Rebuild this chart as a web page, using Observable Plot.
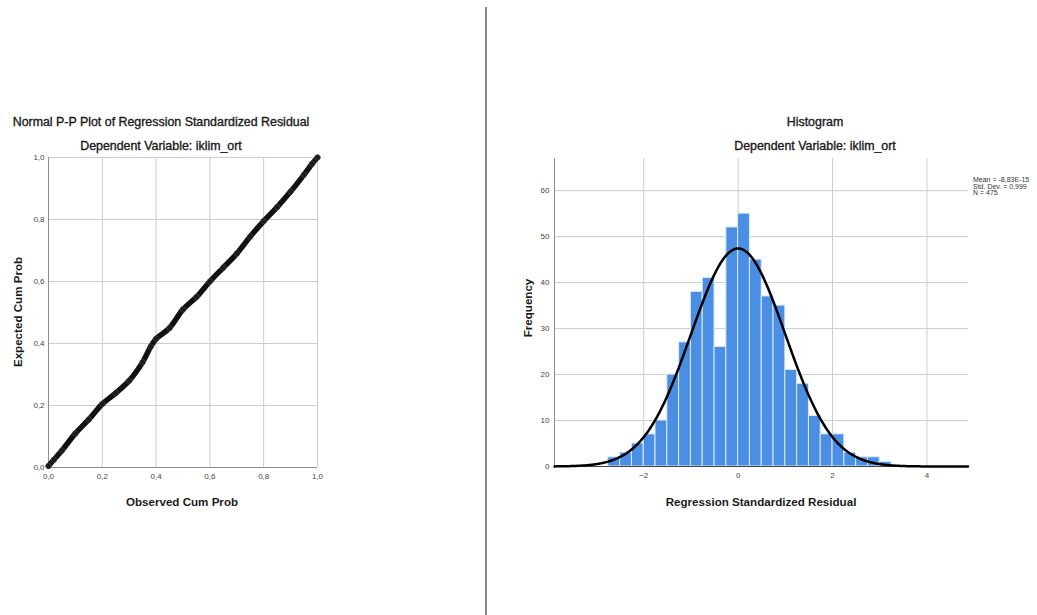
<!DOCTYPE html>
<html>
<head>
<meta charset="utf-8">
<script src="https://cdn.jsdelivr.net/npm/d3@7"></script>
<script src="https://cdn.jsdelivr.net/npm/@observablehq/plot@0.6"></script>
<style>
  html, body { margin: 0; padding: 0; background: #fff; }
  body { width: 1037px; height: 615px; position: relative; overflow: hidden; font-family: "Liberation Sans", Arial, sans-serif; }
  .abs { position: absolute; white-space: nowrap; color: #1a1a1a; }
  .title { font-size: 12.4px; -webkit-text-stroke: 0.35px #1a1a1a; transform: translate(-50%, -50%); }
  .axlab { font-size: 11.6px; font-weight: bold; transform: translate(-50%, -50%); }
  .axlabv { font-size: 11.6px; font-weight: bold; transform: translate(-50%, -50%) rotate(-90deg); }
  .legend { font-size: 7px; line-height: 6.5px; color: #333; }
  #divider { position: absolute; left: 485px; top: 7px; width: 2px; height: 608px; background: #8a8a8a; }
  #pp, #hist { position: absolute; top: 100px; }
  #pp { left: 0px; }
  #hist { left: 500px; }
</style>
</head>
<body>
<div id="divider"></div>

<div class="abs title" style="left:161px; top:122px;">Normal P-P Plot of Regression Standardized Residual</div>
<div class="abs title" style="left:161px; top:146px;">Dependent Variable: iklim_ort</div>
<div class="abs axlab" style="left:182px; top:501px;">Observed Cum Prob</div>
<div class="abs axlabv" style="left:17px; top:312px;">Expected Cum Prob</div>

<div class="abs title" style="left:815px; top:122px;">Histogram</div>
<div class="abs title" style="left:815px; top:146px;">Dependent Variable: iklim_ort</div>
<div class="abs axlab" style="left:761px; top:501px;">Regression Standardized Residual</div>
<div class="abs axlabv" style="left:527px; top:308px;">Frequency</div>

<div class="abs legend" style="left:973px; top:177px;">Mean = -8,83E-15<br>Std. Dev. = 0,999<br>N = 475</div>

<div id="pp"></div>
<div id="hist"></div>

<script>
// ---------- Data: Normal P-P plot ----------
const ppObserved = [0.00, 0.02, 0.05, 0.10, 0.15, 0.20, 0.25, 0.30, 0.35, 0.38, 0.40, 0.45, 0.50, 0.55, 0.60, 0.65, 0.70, 0.75, 0.80, 0.85, 0.90, 0.95, 0.98, 1.00];
const ppExpected = [0.005, 0.025, 0.055, 0.11, 0.155, 0.205, 0.24, 0.28, 0.34, 0.39, 0.415, 0.45, 0.51, 0.55, 0.60, 0.645, 0.69, 0.745, 0.795, 0.84, 0.89, 0.945, 0.98, 1.00];
const ppTicks = [0, 0.2, 0.4, 0.6, 0.8, 1.0];

// ---------- Data: Histogram ----------
const binLower = [-2.75, -2.5, -2.25, -2.0, -1.75, -1.5, -1.25, -1.0, -0.75, -0.5, -0.25, 0.0, 0.25, 0.5, 0.75, 1.0, 1.25, 1.5, 1.75, 2.0, 2.25, 2.5, 2.75, 3.0];
const binCounts = [2, 3, 5, 7, 10, 20, 27, 38, 41, 26, 52, 55, 45, 37, 35, 21, 18, 11, 7, 7, 3, 2, 2, 1];
const binWidth = 0.25;
const histXTicks = [-2, 0, 2, 4];
const histYTicks = [0, 10, 20, 30, 40, 50, 60];
const resMean = -8.83e-15, resSD = 0.999, resN = 475;

const commaFmt = d => d.toFixed(1).replace(".", ",");
const gridColor = "#cccccc";
const axisColor = "#8c8c8c";
const tickStyle = {fontFamily: "Liberation Sans, Arial, sans-serif", fontSize: "8px", color: "#444", background: "transparent"};

// ---------- P-P plot ----------
const ppData = ppObserved.map((o, i) => ({obs: o, exp: ppExpected[i]}));
const pp = Plot.plot({
  width: 340, height: 420,
  marginLeft: 48, marginRight: 23, marginTop: 57, marginBottom: 53,
  style: tickStyle,
  x: {domain: [0, 1]},
  y: {domain: [0, 1]},
  marks: [
    Plot.gridX(ppTicks, {stroke: gridColor, strokeOpacity: 1}),
    Plot.gridY(ppTicks, {stroke: gridColor, strokeOpacity: 1}),
    Plot.ruleX([0], {stroke: axisColor}),
    Plot.ruleY([0], {stroke: axisColor}),
    Plot.axisX(ppTicks, {tickSize: 0, tickPadding: 6, tickFormat: commaFmt, label: null}),
    Plot.axisY(ppTicks, {tickSize: 0, tickPadding: 4, tickFormat: commaFmt, label: null}),
    Plot.line(ppData, {x: "obs", y: "exp", stroke: "#111", strokeWidth: 5.5, strokeLinecap: "round", strokeLinejoin: "round", curve: "catmull-rom"}),
    Plot.dot(ppData, {x: "obs", y: "exp", r: 2.8, fill: "#1a1a1a", stroke: "#555", strokeWidth: 0.5})
  ]
});
document.getElementById("pp").appendChild(pp);

// ---------- Histogram ----------
const bins = binLower.map((lo, i) => ({x1: lo, x2: lo + binWidth, count: binCounts[i]}));
const xDomain = [-3.89, 4.88];
const curve = d3.range(xDomain[0], xDomain[1] + 0.001, 0.02).map(x => {
  const z = (x - resMean) / resSD;
  return {x, y: resN * binWidth * Math.exp(-0.5 * z * z) / (resSD * Math.sqrt(2 * Math.PI))};
});
const hist = Plot.plot({
  width: 480, height: 420,
  marginLeft: 54, marginRight: 12, marginTop: 58, marginBottom: 54,
  style: tickStyle,
  x: {domain: xDomain},
  y: {domain: [0, 67]},
  marks: [
    Plot.gridX(histXTicks, {stroke: gridColor, strokeOpacity: 1}),
    Plot.gridY(histYTicks.filter(d => d > 0), {stroke: gridColor, strokeOpacity: 1}),
    Plot.rectY(bins, {x1: "x1", x2: "x2", y: "count", fill: "#4a8fe3", stroke: "#dce9f8", strokeWidth: 1}),
    Plot.ruleX([xDomain[0]], {stroke: axisColor}),
    Plot.ruleY([0], {stroke: "#444"}),
    Plot.axisX(histXTicks, {tickSize: 0, tickPadding: 6, label: null}),
    Plot.axisY(histYTicks, {tickSize: 0, tickPadding: 5, label: null}),
    Plot.line(curve, {x: "x", y: "y", stroke: "#000", strokeWidth: 2.5})
  ]
});
document.getElementById("hist").appendChild(hist);
</script>
</body>
</html>
